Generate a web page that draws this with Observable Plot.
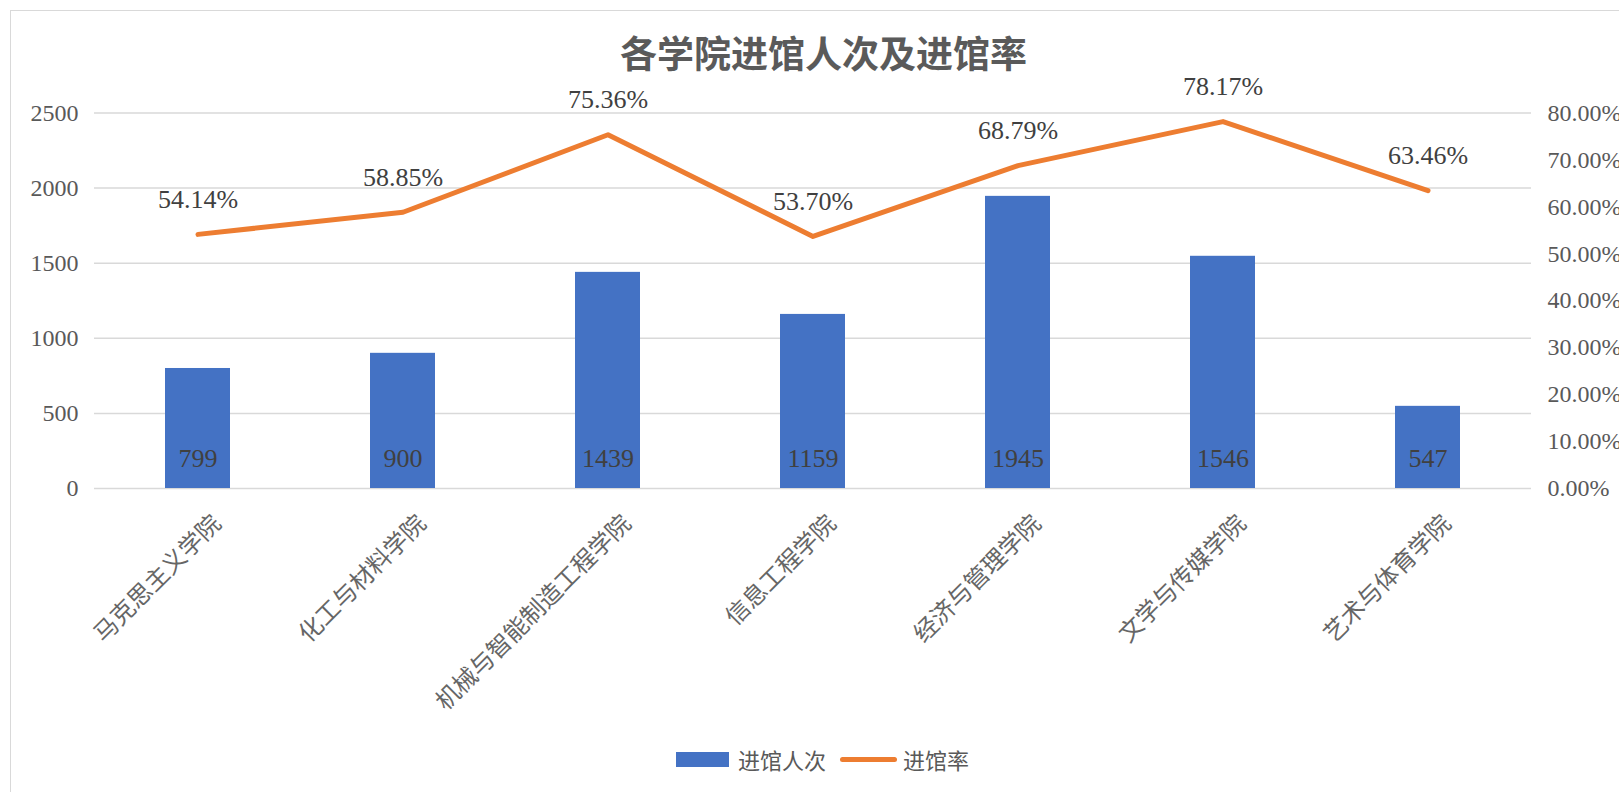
<!DOCTYPE html>
<html><head><meta charset="utf-8">
<script src="https://cdn.jsdelivr.net/npm/d3@7"></script>
<script src="https://cdn.jsdelivr.net/npm/@observablehq/plot@0.6"></script>
<style>
html,body{margin:0;padding:0;background:#fff;overflow:hidden;width:1619px;height:792px}
#wrap{position:relative;width:1619px;height:792px;overflow:hidden;background:#fff}
#frame{position:absolute;left:10px;top:10px;width:1700px;height:900px;border:1.5px solid #d9d9d9;box-sizing:border-box}
#title{position:absolute;left:0;top:30px;width:1647px;text-align:center;font:700 37px "Noto Sans CJK SC";color:#5a5a5a;line-height:44px}
#chart{position:absolute;left:0;top:0}
.lg{position:absolute;font:22px "Noto Sans CJK SC";color:#595959;line-height:30px;top:744px;white-space:nowrap}
</style></head><body>
<div id="wrap">
  <div id="frame"></div>
  <div id="chart"></div>
  <div id="title">各学院进馆人次及进馆率</div>
  <div style="position:absolute;left:676px;top:752px;width:53px;height:15px;background:#4472C4"></div>
  <div class="lg" style="left:738px">进馆人次</div>
  <div style="position:absolute;left:840px;top:756.5px;width:57px;height:5px;border-radius:3px;background:#ED7D31"></div>
  <div class="lg" style="left:903px">进馆率</div>
</div>
<script>
const colleges = ["马克思主义学院","化工与材料学院","机械与智能制造工程学院","信息工程学院","经济与管理学院","文学与传媒学院","艺术与体育学院"];
const visits = [799, 900, 1439, 1159, 1945, 1546, 547];
const rates = [54.14, 58.85, 75.36, 53.70, 68.79, 78.17, 63.46];
const countTicks = [0, 500, 1000, 1500, 2000, 2500];
const rateTicks = [0, 10, 20, 30, 40, 50, 60, 70, 80];
const rateMax = 80, countMax = 2500;
const toCount = r => r / rateMax * countMax;
const data = colleges.map((c, i) => ({college: c, visits: visits[i], rate: rates[i], rateY: toCount(rates[i])}));

const chart = Plot.plot({
  width: 1619, height: 700,
  marginTop: 112.5, marginBottom: 212, marginLeft: 94, marginRight: 88,
  style: {background: "transparent", fontFamily: "Liberation Serif", overflow: "visible"},
  x: {domain: colleges, paddingInner: 0.685, paddingOuter: 0.3425, axis: null},
  y: {domain: [0, countMax], axis: null},
  marks: [
    Plot.gridY(countTicks, {stroke: "#d9d9d9", strokeOpacity: 1, strokeWidth: 1.5}),
    Plot.axisY(countTicks, {anchor: "left", tickSize: 0, tickPadding: 16, fontSize: 24, color: "#595959", label: null, tickFormat: d => String(d)}),
    Plot.axisY(rateTicks.map(toCount), {anchor: "right", tickSize: 0, tickPadding: 16, fontSize: 24, color: "#595959", label: null, tickFormat: d => (d / countMax * rateMax).toFixed(2) + "%"}),
    Plot.barY(data, {x: "college", y: "visits", fill: "#4472C4"}),
    Plot.text(data, {x: "college", y: 0, text: d => String(d.visits), dy: -30, fontSize: 26, fill: "#404040"}),
    Plot.line(data, {x: "college", y: "rateY", stroke: "#ED7D31", strokeWidth: 5, strokeLinecap: "round", strokeLinejoin: "round"}),
    Plot.text(data, {x: "college", y: "rateY", text: d => d.rate.toFixed(2) + "%", dy: -35, fontSize: 26, fill: "#404040"}),
    Plot.text(data, {x: "college", y: 0, text: "college", rotate: -45, textAnchor: "end", dx: 19, dy: 31, fontSize: 24, fill: "#666666", fontFamily: "Noto Sans CJK SC"})
  ]
});
document.getElementById("chart").appendChild(chart);
</script>
</body></html>
